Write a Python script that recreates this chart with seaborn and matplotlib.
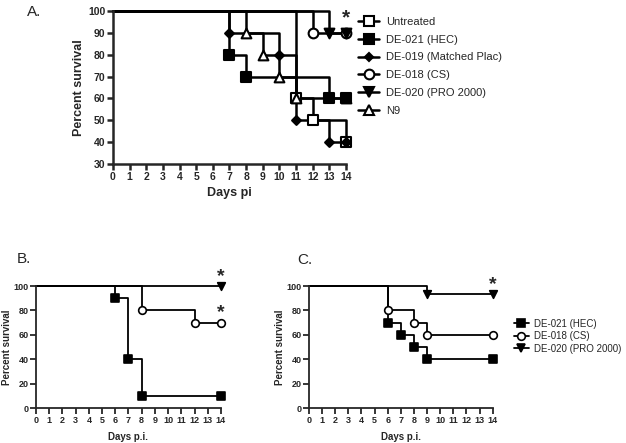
import matplotlib
matplotlib.use("Agg")
import matplotlib.pyplot as plt
from matplotlib.lines import Line2D
import seaborn as sns

# Panel A: survival steps (day, percent)
a_names = ["Untreated", "DE-021 (HEC)", "DE-019 (Matched Plac)",
           "DE-018 (CS)", "DE-020 (PRO 2000)", "N9"]
a_days = [[0, 11, 12, 14],
          [0, 7, 8, 13, 14],
          [0, 7, 10, 11, 13, 14],
          [0, 12, 14],
          [0, 13, 14],
          [0, 8, 9, 10, 11, 14]]
a_surv = [[100, 60, 50, 40],
          [100, 80, 70, 60, 60],
          [100, 90, 80, 50, 40, 40],
          [100, 90, 90],
          [100, 90, 90],
          [100, 90, 80, 70, 60, 60]]
# drawing order (N9 sits under the HEC square at day 14)
a_order = ["Untreated", "N9", "DE-021 (HEC)", "DE-019 (Matched Plac)",
           "DE-018 (CS)", "DE-020 (PRO 2000)"]

# Panel B
b_names = ["DE-021 (HEC)", "DE-018 (CS)", "DE-020 (PRO 2000)"]
b_days = [[0, 6, 7, 8, 14], [0, 8, 12, 14], [0, 14]]
b_surv = [[100, 90, 40, 10, 10], [100, 80, 70, 70], [100, 100]]

# Panel C
c_names = ["DE-021 (HEC)", "DE-018 (CS)", "DE-020 (PRO 2000)"]
c_days = [[0, 6, 7, 8, 9, 14], [0, 6, 8, 9, 14], [0, 9, 14]]
c_surv = [[100, 70, 60, 50, 40, 40], [100, 80, 70, 60, 60], [100, 93.3, 93.3]]

a_style = {"Untreated": ("s", "white", 7),
           "DE-021 (HEC)": ("s", "black", 7),
           "DE-019 (Matched Plac)": ("D", "black", 4.5),
           "DE-018 (CS)": ("o", "white", 7),
           "DE-020 (PRO 2000)": ("v", "black", 7),
           "N9": ("^", "white", 7)}
bc_style = {"DE-021 (HEC)": ("s", "black", 5.5),
            "DE-018 (CS)": ("o", "white", 5.5),
            "DE-020 (PRO 2000)": ("v", "black", 5.5)}

sns.set_style("ticks")
plt.rcParams["font.family"] = ["Liberation Sans", "DejaVu Sans"]


def draw_curves(ax, names, days, surv, styles, lw, mew, order=None):
    data = dict(zip(names, zip(days, surv)))
    for name in (order or names):
        d, s = data[name]
        m, fc, ms = styles[name]
        sns.lineplot(x=d, y=s, drawstyle="steps-post", color="black", lw=lw,
                     ax=ax, clip_on=False, legend=False, zorder=2)
        sns.scatterplot(x=d[1:], y=s[1:], marker=m, s=ms ** 2, color=fc,
                        edgecolor="black", linewidth=mew, ax=ax,
                        clip_on=False, legend=False, zorder=3)


def style_axes(ax, ymin, ystep, tsize, spw):
    ax.set_xlim(0, 14)
    ax.set_ylim(ymin, 100)
    ax.set_xticks(range(0, 15))
    ax.set_yticks(range(ymin, 101, ystep))
    sns.despine(ax=ax)
    for sp in ["left", "bottom"]:
        ax.spines[sp].set_linewidth(spw)
    ax.tick_params(length=4, width=spw, labelsize=tsize, pad=1.5)
    for lab in ax.get_xticklabels() + ax.get_yticklabels():
        lab.set_fontweight("bold")


def make_handles(names, styles, lw, mew):
    hs = []
    for name in names:
        m, fc, ms = styles[name]
        hs.append(Line2D([], [], color="black", lw=lw, marker=m, markersize=ms,
                         markerfacecolor=fc, markeredgecolor="black", markeredgewidth=mew))
    return hs


fig = plt.figure(figsize=(6.26, 4.43), dpi=100)

# ---- Panel A
axA = fig.add_axes([0.1805, 0.6298, 0.3722, 0.3454])
draw_curves(axA, a_names, a_days, a_surv, a_style, 1.8, 1.5, a_order)
style_axes(axA, 30, 10, 7.5, 1.8)
axA.set_ylabel("Percent survival", fontsize=9, fontweight="bold", labelpad=2)
axA.set_xlabel("Days pi", fontsize=9, fontweight="bold", labelpad=4)
axA.text(14, 97, "*", ha="center", va="center", fontsize=15, fontweight="bold")
fig.legend(handles=make_handles(a_names, a_style, 1.8, 1.5), labels=a_names,
           loc="upper left", bbox_to_anchor=(0.565, 0.972), frameon=False,
           fontsize=8, handlelength=1.9, handletextpad=0.6, labelspacing=0.7,
           borderaxespad=0)
fig.text(0.043, 0.972, "A.", fontsize=11, va="center")

# ---- Panel B
axB = fig.add_axes([0.0575, 0.079, 0.2955, 0.2754])
draw_curves(axB, b_names, b_days, b_surv, bc_style, 1.3, 1.2)
style_axes(axB, 0, 20, 6.5, 1.3)
axB.set_ylabel("Percent survival", fontsize=7, fontweight="bold", labelpad=1)
axB.set_xlabel("Days p.i.", fontsize=7, fontweight="bold", labelpad=5)
axB.text(14, 108, "*", ha="center", va="center", fontsize=14, fontweight="bold")
axB.text(14, 78, "*", ha="center", va="center", fontsize=14, fontweight="bold")
fig.text(0.027, 0.415, "B.", fontsize=11, va="center")

# ---- Panel C
axC = fig.add_axes([0.4936, 0.079, 0.2935, 0.2754])
draw_curves(axC, c_names, c_days, c_surv, bc_style, 1.3, 1.2)
style_axes(axC, 0, 20, 6.5, 1.3)
axC.set_ylabel("Percent survival", fontsize=7, fontweight="bold", labelpad=1)
axC.set_xlabel("Days p.i.", fontsize=7, fontweight="bold", labelpad=5)
axC.text(14, 101, "*", ha="center", va="center", fontsize=14, fontweight="bold")
fig.legend(handles=make_handles(c_names, bc_style, 1.3, 1.2), labels=c_names,
           loc="center left", bbox_to_anchor=(0.815, 0.241), frameon=False,
           fontsize=7, handlelength=1.5, handletextpad=0.5, labelspacing=0.25,
           borderaxespad=0)
fig.text(0.475, 0.413, "C.", fontsize=11, va="center")

fig.savefig("out.png", dpi=100)
